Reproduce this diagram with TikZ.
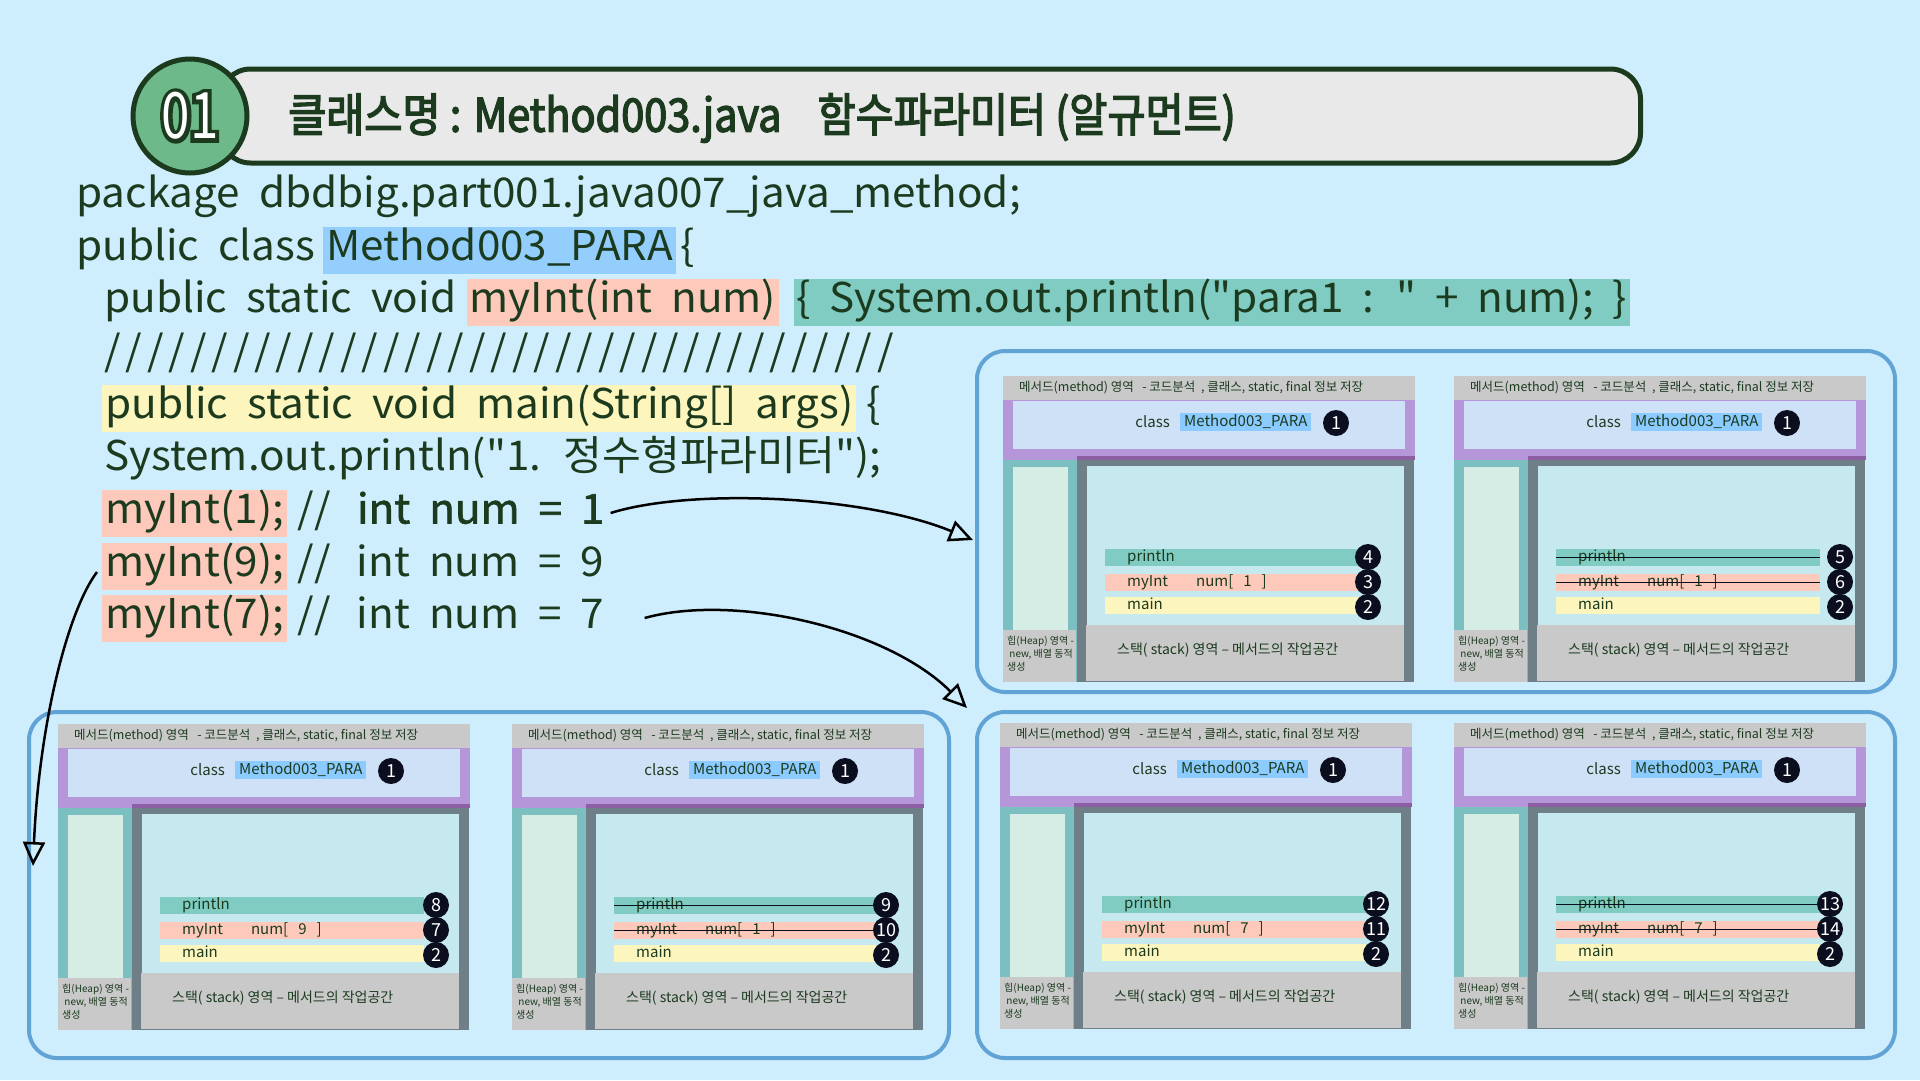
\documentclass[tikz,border=0pt]{standalone}
\usepackage{fontspec}
\setmainfont{Noto Sans CJK KR}[Ligatures=TeXOff]
\newfontfamily\titlefont{Noto Sans CJK KR}[FakeBold=3,FakeStretch=0.9,Ligatures=TeXOff]
\newfontfamily\badgefont{Noto Sans CJK KR}[FakeStretch=0.8,Ligatures=TeXOff]
\newfontfamily\codefont{Noto Sans CJK KR}[FakeStretch=1.03,WordSpace=2,Ligatures=TeXOff]
\newfontfamily\slashfont{Noto Sans CJK KR}[FakeStretch=1.03,LetterSpace=12,Ligatures=TeXOff]
\newfontfamily\thickfont{Noto Sans CJK KR}[FakeBold=1.5,FakeStretch=1.03,WordSpace=2,Ligatures=TeXOff]
\usetikzlibrary{positioning,arrows.meta}
\definecolor{bgblue}{HTML}{CFEEFD}
\definecolor{panelline}{HTML}{62A3D6}
\definecolor{ink}{HTML}{1B3A1E}
\definecolor{badge}{HTML}{6DB98A}
\definecolor{barfill}{HTML}{E9E9E9}
\definecolor{hlblue}{HTML}{94CEFD}
\definecolor{hlsalmon}{HTML}{FDC9BB}
\definecolor{hlteal}{HTML}{80CBC2}
\definecolor{hlyellow}{HTML}{FDF5BE}
\definecolor{memgray}{HTML}{C9C9C9}
\definecolor{mempurple}{HTML}{B596D8}
\definecolor{purpledark}{HTML}{8C5FA3}
\definecolor{memblue}{HTML}{CFE1F7}
\definecolor{heapteal}{HTML}{7BBFC0}
\definecolor{heaplight}{HTML}{D6EDE6}
\definecolor{stackframe}{HTML}{6F7F87}
\definecolor{stackin}{HTML}{C5E9EF}
\definecolor{dotink}{HTML}{0B0E1E}
\definecolor{classblue}{HTML}{8CCBFF}
\begin{document}
\begin{tikzpicture}[x=1pt,y=-1pt,
  every node/.style={inner sep=0pt,text=ink},
  code/.style={font=\codefont\fontsize{41}{44}\selectfont,text height=30pt,text depth=9pt,inner ysep=4pt,anchor=west},
  hl/.style={code,inner xsep=3pt},
  panel/.style={draw=panelline,line width=4pt,fill=bgblue,rounded corners=28pt,anchor=north west},
  rowbar/.style={anchor=north west,minimum height=17pt,text width=220pt,inner xsep=22pt,align=left,text height=11pt,text depth=3pt,font=\fontsize{15}{16}\selectfont},
  numdot/.style={circle,fill=dotink,text=white,minimum size=26pt,font=\fontsize{18}{18}\selectfont},
  strike/.style={draw=dotink,line width=1.2pt},
  hand/.style={draw=black,line width=2.5pt,-{Triangle[open,length=24pt,width=22pt,line width=2.5pt]}}]
\useasboundingbox (0,0) rectangle (1920,1080);
\fill[bgblue] (0,0) rectangle (1920,1080);
% title
\node[draw=ink,line width=5pt,fill=barfill,rounded corners=30pt,minimum width=1420pt,minimum height=94pt,anchor=west] (bar) at (218,116) {};
\node[circle,draw=ink,line width=5pt,fill=badge,minimum size=114pt] (badge) at (190,116) {};
\node[font=\badgefont\fontsize{64}{64}\selectfont,text=white] (badgetxt) at (badge.center) {\rlap{\special{pdf:literal direct 0.106 0.227 0.118 RG 8 w 1 Tr}01\special{pdf:literal direct 0 Tr}}01};
\node[anchor=west,font=\titlefont\fontsize{46}{46}\selectfont] (title) at (288,118) {클래스명 : Method003.java\hspace{36pt}함수파라미터 (알규먼트)};
% code
\node[code] (l1) at (76,197) {package dbdbig.part001.java007\_java\_method;};
\node[code] (l2a) at (76,250) {public class};
\node[hl,fill=hlblue,right=8pt of l2a] (l2b) {Method003\_PARA};
\node[code,right=4pt of l2b] (l2c) {\{};
\node[code] (l3a) at (104,302) {public static void};
\node[hl,fill=hlsalmon,right=10pt of l3a] (l3b) {myInt(int num)};
\node[hl,fill=hlteal,right=14pt of l3b] (l3c) {\{ System.out.println("para1 : " + num); \}};
\node[code,font=\slashfont\fontsize{41}{44}\selectfont] (l4) at (104,355) {/////////////////////////////////////};
\node[hl,fill=hlyellow] (l5a) at (102,408) {public static void main(String[] args)};
\node[code,right=10pt of l5a] (l5b) {\{};
\node[code] (l6) at (104,460) {System.out.println("1. 정수형파라미터");};
\node[hl,fill=hlsalmon] (l7a) at (102,513) {myInt(1);};
\node[code,right=10pt of l7a] (l7b) {//};
\node[code,font=\thickfont\fontsize{41}{44}\selectfont,right=26pt of l7b] (l7c) {int num = 1};
\node[hl,fill=hlsalmon] (l8a) at (102,566) {myInt(9);};
\node[code,right=10pt of l8a] (l8b) {//};
\node[code,right=26pt of l8b] (l8c) {int num = 9};
\node[hl,fill=hlsalmon] (l9a) at (102,618) {myInt(7);};
\node[code,right=10pt of l9a] (l9b) {//};
\node[code,right=26pt of l9b] (l9c) {int num = 7};
% panels
\node[panel,minimum width=918pt,minimum height=341pt] (pan1) at (975,349) {};
\node[panel,minimum width=920pt,minimum height=346pt] (pan2) at (27,710) {};
\node[panel,minimum width=918pt,minimum height=346pt] (pan3) at (975,710) {};
% memory diagrams
\foreach \dx/\dy/\pa/\pb/\val/\st/\cx [count=\i] in {1003/376/4/3/1/0/365, 1454/376/5/6/1/1/386, 58/724/8/7/9/0/378, 512/724/9/10/1/1/374, 1000/723/12/11/7/0/376, 1454/723/13/14/7/1/376}{
\begin{scope}[shift={(\dx,\dy)}]
\fill[memgray] (0,0) rectangle (412,24);
\node[anchor=west,font=\fontsize{12.5}{14}\selectfont] (d\i-mt) at (16,12) {메서드(method) 영역 \ \ - 코드분석 \ , 클래스, static, final 정보 저장};
\fill[mempurple] (0,24) rectangle (412,84);
\fill[memblue] (10,25) rectangle (402,73);
\node[anchor=east,font=\fontsize{15}{16}\selectfont] (d\i-cl) at (167,46) {class};
\node[anchor=west,fill=classblue,inner xsep=4pt,inner ysep=2pt,font=\fontsize{15}{16}\selectfont] (d\i-cn) at (177,46) {Method003\_PARA};
\node[numdot] (d\i-n1) at (333,47) {1};
\fill[heapteal] (0,84) rectangle (74,306);
\fill[heaplight] (10,91) rectangle (65,254);
\fill[memgray] (0,254) rectangle (73,306);
\node[anchor=north west,align=left,font=\fontsize{10}{13}\selectfont] (d\i-hp) at (4,260) {힙(Heap) 영역 -\\ \ new, 배열 동적\\생성};
\fill[stackframe] (74,80) rectangle (411,306);
\fill[purpledark] (74,80) rectangle (412,84);
\fill[stackin] (84,90) rectangle (401,249);
\fill[memgray] (83,249) rectangle (401,305);
\node[anchor=west,font=\fontsize{14}{16}\selectfont] (d\i-st) at (114,274) {스택( stack) 영역 – 메서드의 작업공간};
\node[rowbar,fill=hlteal] (d\i-pr) at (102,173) {println};
\node[rowbar,fill=hlsalmon] (d\i-mi) at (102,198) {myInt\hspace{28pt}num[ \ \val\ \ ]};
\node[rowbar,fill=hlyellow] (d\i-mn) at (102,221) {main};
\ifnum\st=1
  \draw[strike] (d\i-pr.west) -- (d\i-pr.east);
  \draw[strike] (d\i-mi.west) -- (d\i-mi.east);
\fi
\node[numdot] (d\i-npr) at (\cx,181) {\pa};
\node[numdot] (d\i-nmi) at (\cx,206) {\pb};
\node[numdot] (d\i-nmn) at (\cx,231) {2};
\end{scope}
}
% arrows
\coordinate (tip1) at (973,540);
\coordinate (tip2) at (33,866);
\coordinate (tip3) at (967,708);
\draw[hand] ([xshift=6pt]l7c.east) .. controls +(80,-25) and +(-110,-45) .. (tip1);
\draw[hand] ([xshift=-5pt,yshift=-6pt]l8a.west) .. controls +(-30,40) and +(6,-140) .. (tip2);
\draw[hand] ([xshift=40pt]l9c.east) .. controls +(90,-25) and +(-80,-80) .. (tip3);
\end{tikzpicture}
\end{document}
